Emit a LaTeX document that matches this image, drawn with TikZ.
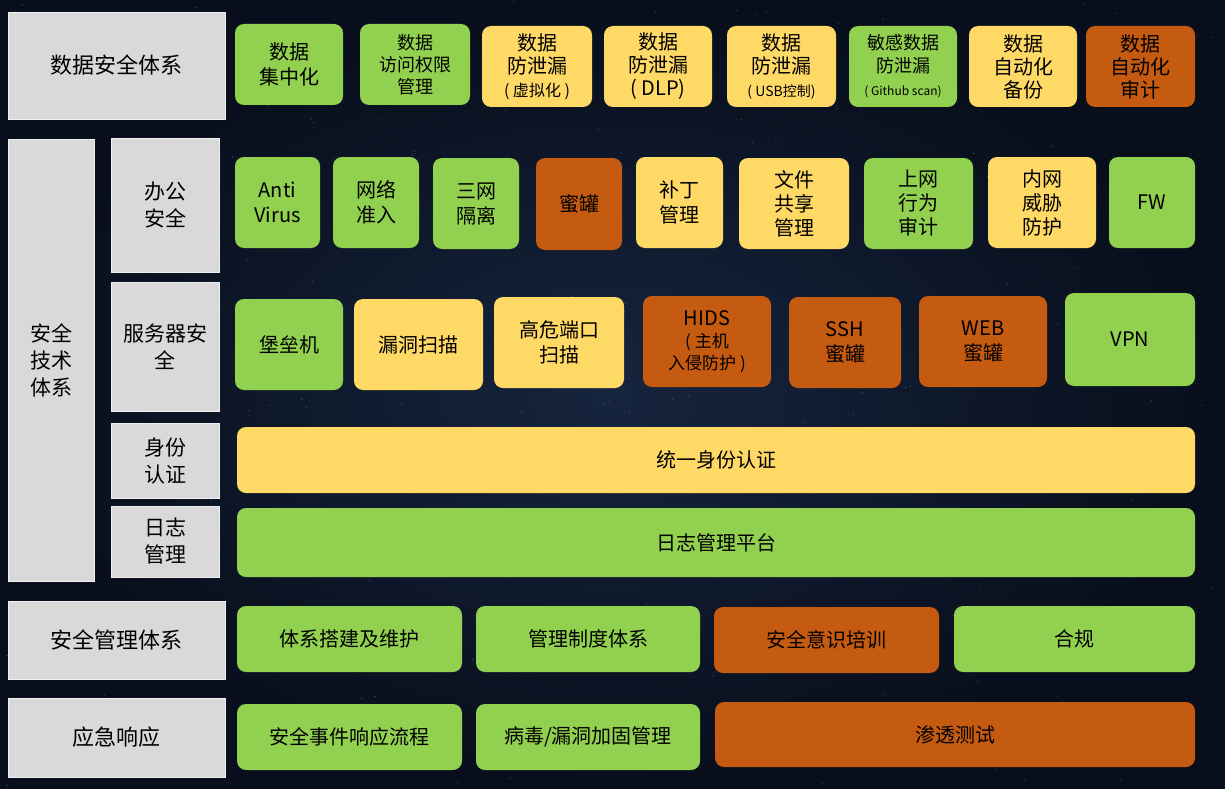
\documentclass[tikz,border=0pt]{standalone}
\usepackage{fontspec}
\usepackage{xcolor}
\usepackage{tikz}
\newfontfamily\cjk{Noto Sans CJK SC}
\definecolor{secgreen}{RGB}{146,208,80}
\definecolor{secyellow}{RGB}{255,217,102}
\definecolor{secorange}{RGB}{197,90,17}
\definecolor{secgray}{RGB}{217,217,217}
\definecolor{secnavy}{RGB}{8,14,27}
\definecolor{secglow}{RGB}{22,37,62}

\begin{document}
\begin{tikzpicture}[x=1pt,y=-1pt,
  sz/.style 2 args={minimum width=#1,minimum height=#2},
  cell/.style={rounded corners=9pt,inner sep=1pt,align=center,text=black,font=\cjk\fontsize{20}{25}\selectfont},
  grn/.style={cell,fill=secgreen},ylw/.style={cell,fill=secyellow},org/.style={cell,fill=secorange},
  lbl/.style={fill=secgray,draw=white!60!secgray,inner sep=1pt,align=center,text=black,font=\cjk\fontsize{21}{27}\selectfont}]
  % background
  \shade[inner color=secglow,outer color=secnavy] (0,0) rectangle (1225,789);
  \pgfmathsetseed{11}
  \foreach \i in {1,...,220}{\fill[white,opacity=0.22] (rnd*1225,rnd*789) circle (0.7);}
  % left column
  \node[lbl,sz={217}{107},font=\cjk\fontsize{22}{27}\selectfont] (sjaq) at (116.5,65.5) {数据安全体系};
  \node[lbl,sz={86}{442}] (jstx) at (51,360) {安全\\技术\\体系};
  \node[lbl,sz={108}{134}] (bgaq) at (165,205) {办公\\安全};
  \node[lbl,sz={108}{129}] (fwqaq) at (165,346.5) {服务器安\\全};
  \node[lbl,sz={108}{75}] (sfrz) at (165,460.5) {身份\\认证};
  \node[lbl,sz={108}{71}] (rzgl) at (165,541.5) {日志\\管理};
  \node[lbl,sz={217}{78},font=\cjk\fontsize{22}{27}\selectfont] (gltx) at (116.5,640) {安全管理体系};
  \node[lbl,sz={217}{79},font=\cjk\fontsize{22}{27}\selectfont] (yjxy) at (116.5,737.5) {应急响应};
  % data security
  \node[grn,sz={108}{81}] (jzh) at (289,64.5) {数据\\集中化};
  \node[grn,sz={110}{81},font=\cjk\fontsize{18}{22}\selectfont] (fwqx) at (415,64.5) {数据\\访问权限\\管理};
  \node[ylw,sz={110}{81},font=\cjk\fontsize{20}{23}\selectfont] (xnh) at (537,66.5) {数据\\防泄漏\\{\fontsize{16}{19}\selectfont (~虚拟化~)}};
  \node[ylw,sz={108}{81},font=\cjk\fontsize{20}{23}\selectfont] (dlp) at (658,66.5) {数据\\防泄漏\\(~DLP)};
  \node[ylw,sz={109}{81},font=\cjk\fontsize{20}{23}\selectfont] (usb) at (781.5,66.5) {数据\\防泄漏\\{\fontsize{14}{17}\selectfont (~USB控制)}};
  \node[grn,sz={108}{81},font=\cjk\fontsize{18}{23}\selectfont] (gith) at (903,66.5) {敏感数据\\防泄漏\\{\fontsize{12}{15}\selectfont (~Github scan)}};
  \node[ylw,sz={108}{81},font=\cjk\fontsize{20}{23}\selectfont] (bf) at (1023,66.5) {数据\\自动化\\备份};
  \node[org,sz={109}{81},font=\cjk\fontsize{20}{23}\selectfont] (zdsj) at (1140.5,66.5) {数据\\自动化\\审计};
  % office security
  \node[grn,sz={85}{91}] (av) at (277.5,202.5) {Anti\\Virus};
  \node[grn,sz={86}{91}] (wlzr) at (376,202.5) {网络\\准入};
  \node[grn,sz={86}{91}] (swgl) at (476,203.5) {三网\\隔离};
  \node[org,sz={86}{92}] (mg) at (579,204) {蜜罐};
  \node[ylw,sz={87}{91}] (bd) at (679.5,202.5) {补丁\\管理};
  \node[ylw,sz={110}{91},font=\cjk\fontsize{20}{24}\selectfont] (wjgx) at (794,203.5) {文件\\共享\\管理};
  \node[grn,sz={109}{91},font=\cjk\fontsize{20}{24}\selectfont] (swxw) at (918.5,203.5) {上网\\行为\\审计};
  \node[ylw,sz={108}{91},font=\cjk\fontsize{20}{24}\selectfont] (nwws) at (1042,202.5) {内网\\威胁\\防护};
  \node[grn,sz={86}{91}] (fw) at (1152,202.5) {FW};
  % server security
  \node[grn,sz={108}{91}] (blj) at (289,344.5) {堡垒机};
  \node[ylw,sz={129}{91}] (ldsm) at (418.5,344.5) {漏洞扫描};
  \node[ylw,sz={130}{91}] (gwdk) at (559,342.5) {高危端口\\扫描};
  \node[org,sz={128}{91},font=\cjk\fontsize{20}{22}\selectfont] (hids) at (707,341.5) {HIDS\\{\fontsize{17}{19}\selectfont (~主机}\\{\fontsize{17}{19}\selectfont 入侵防护~)}};
  \node[org,sz={112}{91}] (sshmg) at (845,342.5) {SSH\\蜜罐};
  \node[org,sz={128}{91}] (webmg) at (983,341.5) {WEB\\蜜罐};
  \node[grn,sz={130}{93}] (vpn) at (1130,339.5) {VPN};
  % identity and logging
  \node[ylw,sz={958}{66}] (tysf) at (716,460) {统一身份认证};
  \node[grn,sz={958}{69}] (rzpt) at (716,542.5) {日志管理平台};
  % management
  \node[grn,sz={225}{66}] (txdj) at (349.5,639) {体系搭建及维护};
  \node[grn,sz={224}{66}] (glzd) at (588,639) {管理制度体系};
  \node[org,sz={225}{66}] (yspx) at (826.5,640) {安全意识培训};
  \node[grn,sz={241}{66}] (hg) at (1074.5,639) {合规};
  % emergency response
  \node[grn,sz={225}{66}] (sjlc) at (349.5,737) {安全事件响应流程};
  \node[grn,sz={224}{66}] (bdjg) at (588,737) {病毒/漏洞加固管理};
  \node[org,sz={480}{65}] (stcs) at (955,734.5) {渗透测试};
\end{tikzpicture}
\end{document}
